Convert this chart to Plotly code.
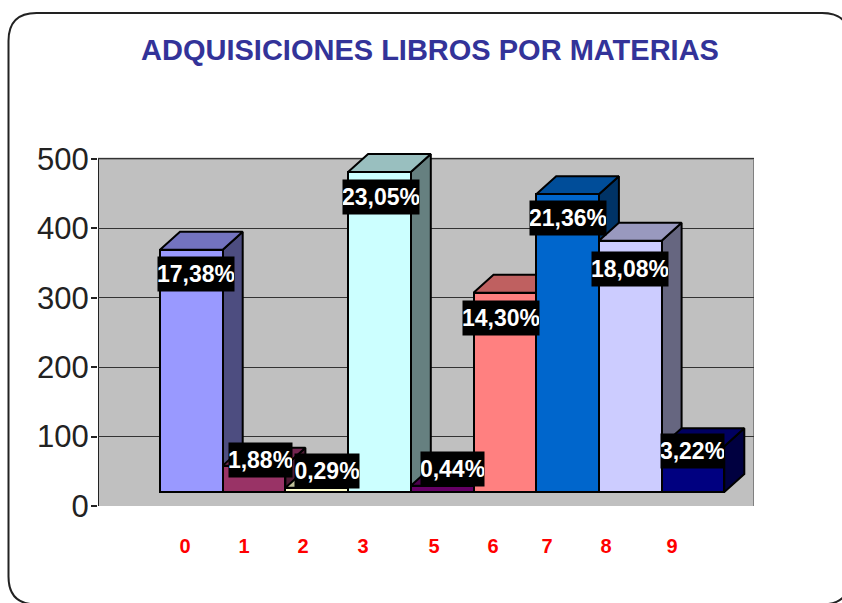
import plotly.graph_objects as go

# ---- data ----
CATEGORIES = ["0", "1", "2", "3", "5", "6", "7", "8", "9"]
VALUES = [349, 38, 6, 461, 9, 287, 429, 362, 66]
PERCENT_LABELS = ["17,38%", "1,88%", "0,29%", "23,05%", "0,44%", "14,30%", "21,36%", "18,08%", "3,22%"]
Y_TICKS = [0, 100, 200, 300, 400, 500]
TITLE = "ADQUISICIONES LIBROS POR MATERIAS"

FRONT_COLORS = ["#9999FF", "#993366", "#FFFFCC", "#CCFFFF", "#660066", "#FF8080", "#0066CC", "#CCCCFF", "#000080"]
TOP_COLORS = ["#7373BF", "#732650", "#BFBF99", "#99BFBF", "#4D004D", "#BF6060", "#004D99", "#9999BF", "#000060"]
SIDE_COLORS = ["#4D4D80", "#4D1A33", "#808066", "#668080", "#330033", "#804040", "#003366", "#666680", "#000040"]

# ---- layout constants (pixels of the 842x603 page) ----
W, H = 842, 603
PLOT_L, PLOT_R, WALL_T, PLOT_B = 98, 754, 158.5, 506
BAR_X0, BAR_W = 160.0, 62.7
Y_MAX = 500
Y_HEADROOM = 530               # axis runs past the wall so the tallest bar's 3-D top is not clipped
PX_PER_UNIT = (PLOT_B - WALL_T) / Y_MAX
PLOT_T = PLOT_B - Y_HEADROOM * PX_PER_UNIT
FLOOR = 14 / PX_PER_UNIT      # front of the floor above the axis line
DEPTH_Y = 18 / PX_PER_UNIT    # 3-D depth
DEPTH_X = 20 / BAR_W
LABEL_DX = [4.5, 6, 10, 2, 10, -4, 0.5, 0, 0]
LABEL_DY = [24, -6, -17, 25, -17, 25, 24, 28, 5]
LABEL_W = [76, 63, 64, 76, 63, 76, 76, 76, 63]
CAT_PX = [185, 244, 303, 363, 434, 493, 547, 606, 672]
RED_TICKS = [(p - BAR_X0) / BAR_W for p in CAT_PX]
X_RANGE = [(PLOT_L - BAR_X0) / BAR_W, (PLOT_R - BAR_X0) / BAR_W]

fig = go.Figure()
OUT = dict(color="black", width=2)
for i, v in enumerate(VALUES):
    top = FLOOR + v
    z = 2 * i + 1
    fig.add_trace(go.Scatter(
        x=[i + 1, i + 1 + DEPTH_X, i + 1 + DEPTH_X, i + 1, i + 1],
        y=[FLOOR, FLOOR + DEPTH_Y, top + DEPTH_Y, top, FLOOR],
        mode="lines", fill="toself", fillcolor=SIDE_COLORS[i], line=OUT,
        hoverinfo="skip", showlegend=False, zorder=z))
    fig.add_trace(go.Scatter(
        x=[i, i + DEPTH_X, i + 1 + DEPTH_X, i + 1, i],
        y=[top, top + DEPTH_Y, top + DEPTH_Y, top, top],
        mode="lines", fill="toself", fillcolor=TOP_COLORS[i], line=OUT,
        hoverinfo="skip", showlegend=False, zorder=z))
    fig.add_trace(go.Bar(
        x=[i + 0.5], y=[v], base=FLOOR, width=1,
        marker=dict(color=FRONT_COLORS[i], line=OUT),
        showlegend=False, zorder=z + 1))

for i, (v, lab) in enumerate(zip(VALUES, PERCENT_LABELS)):
    fig.add_annotation(
        x=i + 0.5, y=FLOOR + v, xref="x", yref="y", text=lab, showarrow=False,
        xshift=LABEL_DX[i], yshift=-LABEL_DY[i], width=LABEL_W[i], height=34,
        bgcolor="black", borderpad=0, align="center", valign="middle",
        font=dict(family="Liberation Sans", size=23, color="white", weight=700))

# grey back wall with its edges
fig.add_shape(type="rect", xref="x", yref="y", x0=X_RANGE[0], x1=X_RANGE[1], y0=0, y1=Y_MAX,
              fillcolor="#C0C0C0", line=dict(width=0), layer="below")
for x0, x1, y0, y1, col in [(X_RANGE[1], X_RANGE[1], 0, Y_MAX, "#808080"),
                            (X_RANGE[0], X_RANGE[1], Y_MAX, Y_MAX, "#808080"),
                            (X_RANGE[0], X_RANGE[0], 0, Y_MAX, "#222222")]:
    fig.add_shape(type="line", xref="x", yref="y", x0=x0, x1=x1, y0=y0, y1=y1,
                  line=dict(color=col, width=2), layer="below")

# rounded page frame, paper coordinates = plot-area fractions
def px(x):
    return (x - PLOT_L) / (PLOT_R - PLOT_L)

def py(y):
    return (PLOT_B - y) / (PLOT_B - PLOT_T)

R = 28
L_, T_, R_, B_ = 8.5, 12.5, 850, 604.5
frame = (f"M {px(L_+R)} {py(T_)} L {px(R_-R)} {py(T_)} Q {px(R_)} {py(T_)} {px(R_)} {py(T_+R)} "
         f"L {px(R_)} {py(B_-R)} Q {px(R_)} {py(B_)} {px(R_-R)} {py(B_)} "
         f"L {px(L_+R)} {py(B_)} Q {px(L_)} {py(B_)} {px(L_)} {py(B_-R)} "
         f"L {px(L_)} {py(T_+R)} Q {px(L_)} {py(T_)} {px(L_+R)} {py(T_)} Z")
fig.add_shape(type="path", xref="paper", yref="paper", path=frame,
              line=dict(color="#222222", width=2), layer="below")

fig.update_layout(
    width=W, height=H, autosize=False,
    margin=dict(l=PLOT_L, r=W - PLOT_R, t=PLOT_T, b=H - PLOT_B, pad=0),
    paper_bgcolor="white", plot_bgcolor="white",
    barmode="overlay", bargap=0,
    title=dict(text=TITLE, x=430 / W, xanchor="center", y=1 - 50 / H, yanchor="middle",
               font=dict(family="Liberation Sans", size=29, color="#333399", weight=700)),
    xaxis=dict(range=X_RANGE,
               tickmode="array", tickvals=RED_TICKS, ticktext=CATEGORIES,
               ticks="", showgrid=False, zeroline=False, layer="below traces",
               showline=True, linecolor="#808080", linewidth=2,
               tickfont=dict(family="Liberation Sans", size=20, color="#FF0000", weight=700),
               ticklabelstandoff=21),
    yaxis=dict(range=[0, Y_HEADROOM],
               tickmode="array", tickvals=Y_TICKS, layer="below traces",
               ticks="outside", ticklen=6, tickcolor="#222222", tickwidth=1.5,
               showgrid=True, gridcolor="#333333", gridwidth=1, zeroline=False,
               showline=False, ticklabelstandoff=-4,
               tickfont=dict(family="Liberation Sans", size=31, color="#222222")),
)

fig.write_html("out.html", config={"displayModeBar": False},
               post_script="document.body.style.margin='0';")
